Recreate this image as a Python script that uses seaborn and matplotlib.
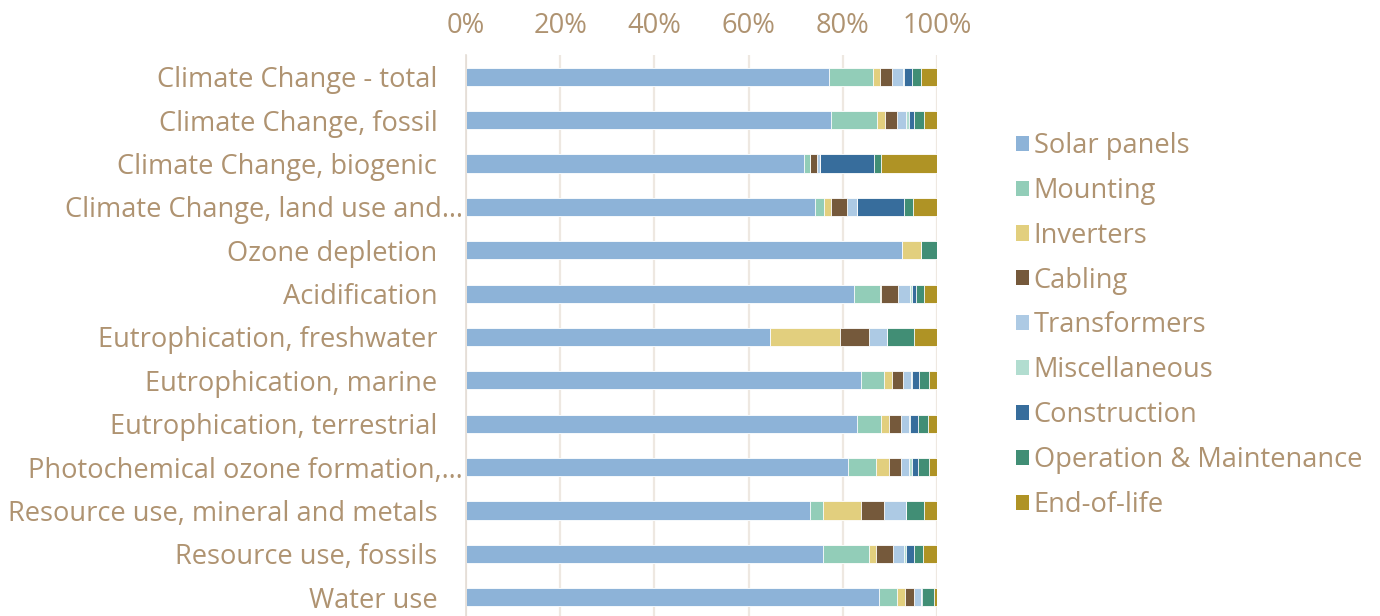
import numpy as np
import pandas as pd
import matplotlib
matplotlib.use("Agg")
import matplotlib.pyplot as plt
import seaborn as sns

categories = [
    "Climate Change - total",
    "Climate Change, fossil",
    "Climate Change, biogenic",
    "Climate Change, land use and…",
    "Ozone depletion",
    "Acidification",
    "Eutrophication, freshwater",
    "Eutrophication, marine",
    "Eutrophication, terrestrial",
    "Photochemical ozone formation,…",
    "Resource use, mineral and metals",
    "Resource use, fossils",
    "Water use",
]

solar_panels   = [77.1, 77.5, 71.8, 74.0, 92.6, 82.4, 64.6, 83.9, 83.1, 81.1, 73.1, 75.8, 88.1]
mounting       = [9.3, 9.8, 1.2, 2.1, 0.0, 5.6, 0.0, 4.9, 5.0, 6.0, 2.6, 9.7, 3.9]
inverters      = [1.6, 1.6, 0.0, 1.3, 4.0, 0.1, 14.7, 1.7, 1.8, 2.7, 8.1, 1.6, 1.6]
cabling        = [2.5, 2.6, 1.5, 3.5, 0.0, 3.7, 6.3, 2.3, 2.4, 2.6, 5.0, 3.5, 1.9]
transformers   = [2.2, 1.9, 0.7, 2.1, 0.1, 2.5, 3.8, 1.6, 1.7, 1.7, 4.6, 2.3, 1.5]
miscellaneous  = [0.2, 0.6, 0.0, 0.0, 0.0, 0.3, 0.0, 0.2, 0.3, 0.5, 0.0, 0.5, 0.1]
construction   = [1.8, 1.1, 11.5, 10.0, 0.0, 0.9, 0.0, 1.6, 1.7, 1.4, 0.0, 1.8, 0.3]
operation_maint= [2.0, 2.1, 1.4, 1.8, 3.3, 1.7, 5.7, 2.1, 2.1, 2.3, 3.9, 1.9, 2.5]
end_of_life    = [3.3, 2.8, 11.9, 5.2, 0.0, 2.8, 4.9, 1.7, 1.9, 1.7, 2.7, 2.9, 0.6]

series_names = ["Solar panels", "Mounting", "Inverters", "Cabling", "Transformers",
                "Miscellaneous", "Construction", "Operation & Maintenance", "End-of-life"]
series_values = [solar_panels, mounting, inverters, cabling, transformers,
                 miscellaneous, construction, operation_maint, end_of_life]
colors = ["#8DB3D8", "#92CDB8", "#E2CF7E", "#75593B", "#ADCAE4",
          "#B2DDD0", "#376D9C", "#418E75", "#AF9325"]
xticks = [0, 20, 40, 60, 80, 100]
xtick_labels = ["0%", "20%", "40%", "60%", "80%", "100%"]

TEXT = "#AF9371"
FONT = ["Open Sans", "DejaVu Sans"]
FS = 19.6

sns.set_theme(style="white")
plt.rcParams["font.family"] = FONT

df = pd.DataFrame({name: vals for name, vals in zip(series_names, series_values)})
df["category"] = categories
shares = df[series_names].div(df[series_names].sum(axis=1), axis=0) * 100
cum = shares.cumsum(axis=1)

W, H = 1380, 616
fig = plt.figure(figsize=(W / 100, H / 100), dpi=100)
ax = fig.add_axes([466 / W, (616 - 619) / H, (937 - 466) / W, (619 - 55) / H])

ax.grid(axis="x", color="#EEE8E1", linewidth=1.6, zorder=0)
ax.set_axisbelow(True)

for name, col in reversed(list(zip(series_names, colors))):
    plot_df = pd.DataFrame({"category": categories, "value": cum[name].values})
    sns.barplot(data=plot_df, x="value", y="category", orient="h", color=col,
                width=0.42, ax=ax, saturation=1, edgecolor="white", linewidth=0.6,
                label=name, zorder=2)

handles, labels = ax.get_legend_handles_labels()
if ax.get_legend() is not None:
    ax.get_legend().remove()

ax.set_xlim(0, 100)
ax.set_ylim(12.5, -0.5)
ax.xaxis.tick_top()
ax.set_xticks(xticks)
ax.set_xticklabels(xtick_labels)
ax.tick_params(axis="x", length=0, pad=11, labelsize=FS, labelcolor=TEXT)
ax.set_xlabel("")
ax.set_ylabel("")

disp = [c if c.endswith("…") else c + "   \u2009" for c in categories]
ax.set_yticks(range(len(categories)))
ax.set_yticklabels(disp)
ax.tick_params(axis="y", length=0, pad=2, labelsize=FS, labelcolor=TEXT)

for s in ["top", "right", "bottom"]:
    ax.spines[s].set_visible(False)
ax.spines["left"].set_color("#E4DDD5")
ax.spines["left"].set_linewidth(1.2)

order = {n: i for i, n in enumerate(series_names)}
pairs = sorted(zip(handles, labels), key=lambda p: order[p[1]])
leg = fig.legend([p[0] for p in pairs], [p[1] for p in pairs],
                 loc="upper left", bbox_to_anchor=(1005 / W, 1 - 121 / H),
                 frameon=False, fontsize=FS, labelcolor=TEXT,
                 handlelength=0.48, handleheight=0.48, handletextpad=0.18,
                 labelspacing=0.62, borderaxespad=0)
for h in leg.legend_handles:
    h.set_edgecolor("none")

fig.savefig("out.png", dpi=100)
